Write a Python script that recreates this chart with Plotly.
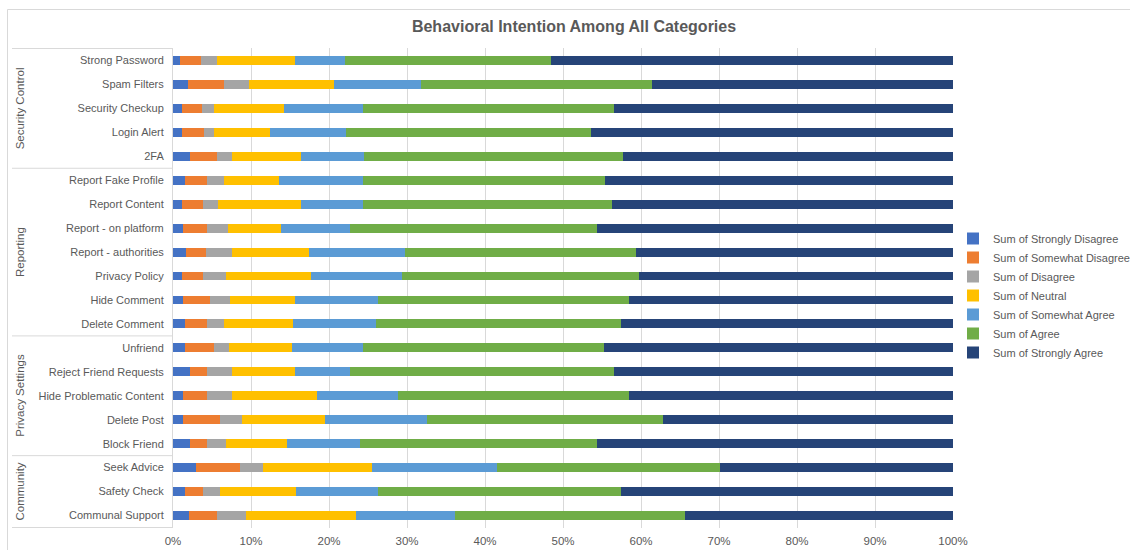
import plotly.graph_objects as go

# Items, top to bottom, with their grouping
items = [
    "Strong Password", "Spam Filters", "Security Checkup", "Login Alert", "2FA",
    "Report Fake Profile", "Report Content", "Report - on platform", "Report - authorities",
    "Privacy Policy", "Hide Comment", "Delete Comment",
    "Unfriend", "Reject Friend Requests", "Hide Problematic Content", "Delete Post", "Block Friend",
    "Seek Advice", "Safety Check", "Communal Support",
]
group_names = ["Security Control", "Reporting", "Privacy Settings", "Community"]
group_sizes = [5, 7, 5, 3]

# Response shares (%) per item, in the same order as `items`
strongly_disagree = [0.9, 1.9, 1.2, 1.2, 2.2, 1.5, 1.2, 1.3, 1.7, 1.2, 1.3, 1.5,
                     1.5, 2.2, 1.3, 1.3, 2.2, 3.0, 1.5, 2.1]
somewhat_disagree = [2.7, 4.6, 2.5, 2.8, 3.5, 2.9, 2.7, 3.1, 2.5, 2.7, 3.4, 2.9,
                     3.8, 2.2, 3.1, 4.7, 2.2, 5.6, 2.4, 3.6]
disagree = [2.1, 3.2, 1.6, 1.3, 1.9, 2.1, 1.9, 2.6, 3.4, 2.9, 2.6, 2.1,
            1.9, 3.1, 3.2, 2.8, 2.4, 2.9, 2.1, 3.6]
neutral = [9.9, 11.0, 8.9, 7.1, 8.8, 7.1, 10.6, 6.9, 9.8, 10.9, 8.4, 8.9,
           8.0, 8.2, 10.8, 10.7, 7.8, 14.0, 9.8, 14.2]
somewhat_agree = [6.5, 11.1, 10.2, 9.8, 8.1, 10.8, 8.0, 8.8, 12.3, 11.6, 10.6, 10.6,
                  9.2, 7.0, 10.5, 13.0, 9.4, 16.0, 10.5, 12.7]
agree = [26.3, 29.6, 32.2, 31.4, 33.2, 31.0, 31.9, 31.7, 29.6, 30.4, 32.1, 31.4,
         30.8, 33.9, 29.6, 30.3, 30.3, 28.6, 31.1, 29.4]
strongly_agree = [51.6, 38.6, 43.4, 46.4, 42.3, 44.6, 43.7, 45.6, 40.7, 40.3, 41.6, 42.6,
                  44.8, 43.4, 41.5, 37.2, 45.7, 29.9, 42.6, 34.4]

x_ticks = [0, 10, 20, 30, 40, 50, 60, 70, 80, 90, 100]

series = [
    ("Sum of Strongly Disagree", strongly_disagree, "#4472C4"),
    ("Sum of Somewhat Disagree", somewhat_disagree, "#ED7D31"),
    ("Sum of Disagree", disagree, "#A5A5A5"),
    ("Sum of Neutral", neutral, "#FFC000"),
    ("Sum of Somewhat Agree", somewhat_agree, "#5B9BD5"),
    ("Sum of Agree", agree, "#70AD47"),
    ("Sum of Strongly Agree", strongly_agree, "#264478"),
]

FONT = "Liberation Sans, Arial, sans-serif"
TEXT = "#595959"
LINE = "#D9D9D9"

# Plot area geometry (pixels)
W, H = 1130, 550
L, R, T, B = 173, 177, 48, 22
PW, PH = W - L - R, H - T - B


def px_x(px):
    return (px - L) / PW


def px_y(py):
    return (H - B - py) / PH


fig = go.Figure()
for name, vals, color in series:
    fig.add_trace(go.Bar(
        y=items, x=vals, name=name, orientation="h",
        marker=dict(color=color, line=dict(width=0)),
    ))

# Group labels and divider lines in the category label column
shapes = []
annotations = []
start = 0
label_left = px_x(12)
shapes.append(dict(type="line", xref="paper", yref="y", x0=label_left, x1=0,
                   y0=-0.5, y1=-0.5, line=dict(color=LINE, width=1)))
for gname, size in zip(group_names, group_sizes):
    end = start + size
    shapes.append(dict(type="line", xref="paper", yref="y", x0=label_left, x1=0,
                       y0=end - 0.5, y1=end - 0.5, line=dict(color=LINE, width=1)))
    annotations.append(dict(
        text=gname, xref="paper", yref="y", x=px_x(20),
        y=(start + end - 1) / 2, textangle=-90, showarrow=False,
        xanchor="center", yanchor="middle",
        font=dict(family=FONT, size=11.5, color=TEXT),
    ))
    start = end

# Outer chart frame
shapes.append(dict(type="rect", xref="paper", yref="paper",
                   x0=px_x(7.5), x1=px_x(1140), y0=px_y(560), y1=px_y(9.5),
                   line=dict(color=LINE, width=1), fillcolor="rgba(0,0,0,0)"))

fig.update_layout(
    width=W, height=H,
    margin=dict(l=L, r=R, t=T, b=B, autoexpand=False),
    paper_bgcolor="white", plot_bgcolor="white",
    barmode="stack", barnorm="percent", bargap=0.63,
    font=dict(family=FONT, size=11, color=TEXT),
    title=dict(
        text="<b>Behavioral Intention Among All Categories</b>",
        x=px_x(574), xref="paper", xanchor="center",
        y=1 - 26 / H, yref="container", yanchor="middle",
        font=dict(family=FONT, size=16, color=TEXT),
    ),
    xaxis=dict(
        range=[0, 100], tickvals=x_ticks, ticktext=[f"{v}%" for v in x_ticks],
        showgrid=True, gridcolor=LINE, gridwidth=1, zeroline=False,
        showline=False, ticks="", ticklabelstandoff=4,
        tickfont=dict(family=FONT, size=11.5, color=TEXT), fixedrange=True,
    ),
    yaxis=dict(
        categoryorder="array", categoryarray=items, autorange="reversed",
        showgrid=False, zeroline=False, showline=True, linecolor=LINE, linewidth=1,
        ticks="", ticklabelstandoff=6,
        tickfont=dict(family=FONT, size=11, color=TEXT), fixedrange=True,
    ),
    legend=dict(
        x=px_x(953), xanchor="left", y=px_y(295.5), yanchor="middle",
        traceorder="normal", font=dict(family=FONT, size=11, color=TEXT),
        bgcolor="rgba(0,0,0,0)", itemwidth=30, tracegroupgap=0,
    ),
    shapes=shapes, annotations=annotations,
)

fig.write_html("out.html")
